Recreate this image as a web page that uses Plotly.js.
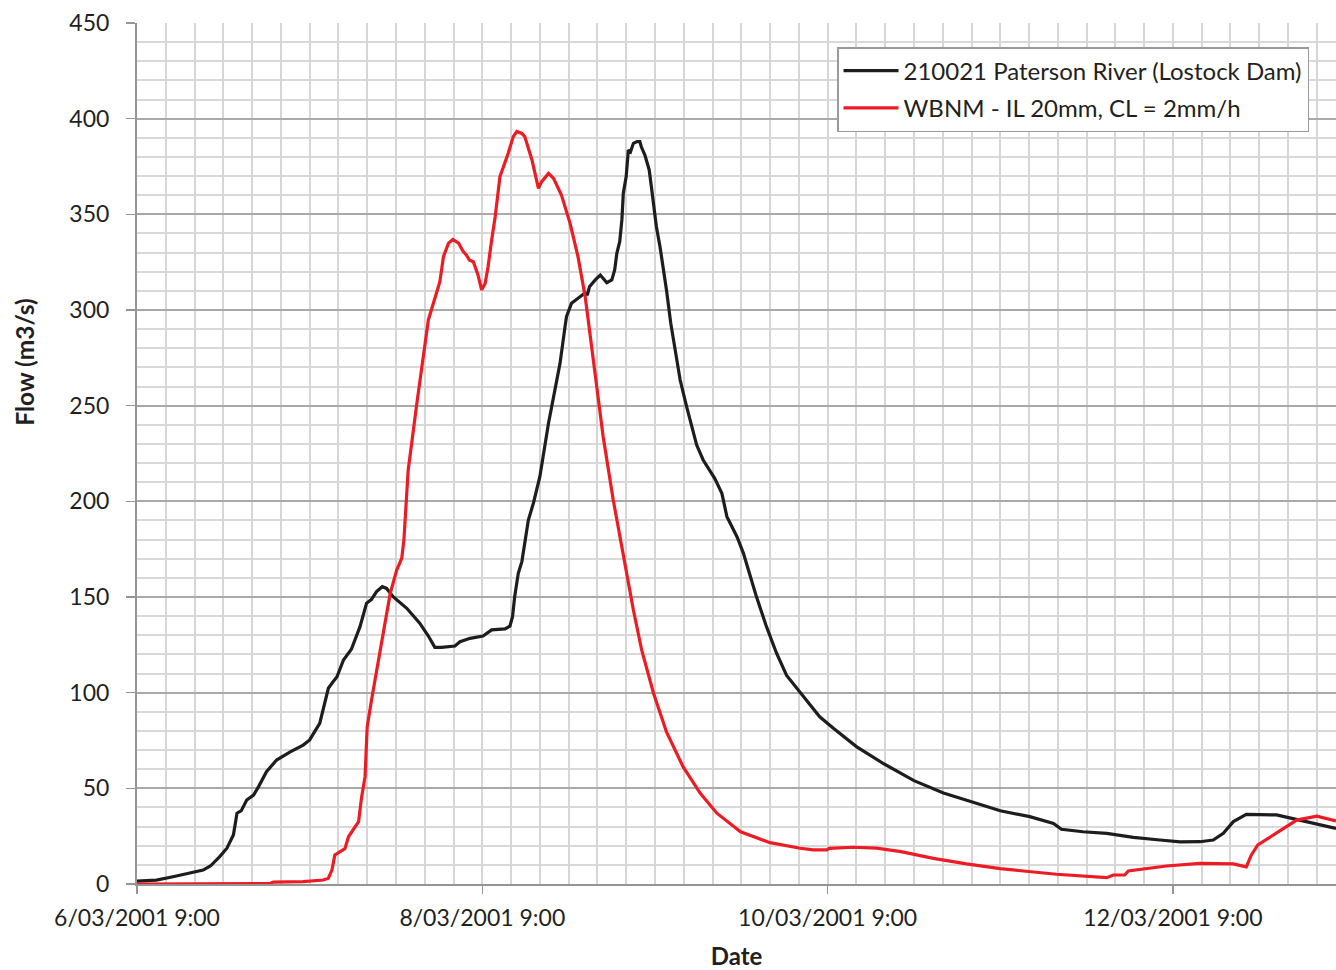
<!DOCTYPE html>
<html>
<head>
<meta charset="utf-8">
<script src="https://cdn.plot.ly/plotly-3.0.1.min.js"></script>
<style>html,body{margin:0;padding:0;background:#fff;}#chart{width:1336px;height:970px;}</style>
</head>
<body>
<div id="chart"></div>
<script>
// Observed flow: 210021 Paterson River (Lostock Dam)
const obsTime = [
 "2001-03-06 09:00","2001-03-06 11:42","2001-03-06 14:00","2001-03-06 18:12","2001-03-06 19:12",
 "2001-03-06 20:30","2001-03-06 21:30","2001-03-06 22:24","2001-03-06 22:54","2001-03-06 23:30",
 "2001-03-07 00:15","2001-03-07 01:12","2001-03-07 01:54","2001-03-07 03:00","2001-03-07 04:24",
 "2001-03-07 06:18","2001-03-07 08:06","2001-03-07 09:00","2001-03-07 10:24","2001-03-07 11:36",
 "2001-03-07 12:06","2001-03-07 12:48","2001-03-07 13:42","2001-03-07 14:48","2001-03-07 16:00",
 "2001-03-07 16:54","2001-03-07 17:36","2001-03-07 18:18","2001-03-07 19:06","2001-03-07 19:42",
 "2001-03-07 20:36","2001-03-07 22:30","2001-03-08 00:18","2001-03-08 01:30","2001-03-08 02:24",
 "2001-03-08 03:20","2001-03-08 05:12","2001-03-08 05:54","2001-03-08 07:18","2001-03-08 09:06",
 "2001-03-08 10:18","2001-03-08 12:10","2001-03-08 12:50","2001-03-08 13:12","2001-03-08 13:30",
 "2001-03-08 14:00","2001-03-08 14:30","2001-03-08 15:24","2001-03-08 16:06","2001-03-08 17:00",
 "2001-03-08 18:12","2001-03-08 19:06","2001-03-08 19:48","2001-03-08 20:30","2001-03-08 20:42",
 "2001-03-08 21:24","2001-03-08 22:48","2001-03-08 23:18","2001-03-08 23:36","2001-03-08 23:54",
 "2001-03-09 00:42","2001-03-09 01:24","2001-03-09 02:18","2001-03-09 03:00","2001-03-09 03:24",
 "2001-03-09 03:42","2001-03-09 04:06","2001-03-09 04:24","2001-03-09 04:36","2001-03-09 05:00",
 "2001-03-09 05:18","2001-03-09 05:36","2001-03-09 06:00","2001-03-09 06:30","2001-03-09 06:54",
 "2001-03-09 07:06","2001-03-09 07:36","2001-03-09 08:12","2001-03-09 08:30","2001-03-09 08:48",
 "2001-03-09 09:12","2001-03-09 09:42","2001-03-09 10:12","2001-03-09 10:36","2001-03-09 11:12",
 "2001-03-09 11:48","2001-03-09 12:30","2001-03-09 13:24","2001-03-09 14:06","2001-03-09 14:48",
 "2001-03-09 15:42","2001-03-09 16:24","2001-03-09 17:18","2001-03-09 18:18","2001-03-09 19:00",
 "2001-03-09 20:24","2001-03-09 21:18","2001-03-09 22:12","2001-03-09 23:06","2001-03-10 00:30",
 "2001-03-10 01:54","2001-03-10 03:18","2001-03-10 05:36","2001-03-10 07:54","2001-03-10 09:48",
 "2001-03-10 13:00","2001-03-10 16:42","2001-03-10 21:00","2001-03-11 01:06","2001-03-11 05:00",
 "2001-03-11 09:00","2001-03-11 13:06","2001-03-11 16:24","2001-03-11 17:30","2001-03-11 20:30",
 "2001-03-11 23:48","2001-03-12 03:30","2001-03-12 07:12","2001-03-12 10:00","2001-03-12 12:45",
 "2001-03-12 14:36","2001-03-12 16:00","2001-03-12 17:24","2001-03-12 19:12","2001-03-12 23:24",
 "2001-03-13 02:36","2001-03-13 07:40"
];
const obsFlow = [
 1.5,2.0,3.8,7.3,9.4,
 14.3,18.7,25.6,37.0,38.3,
 43.9,46.5,50.9,58.7,64.8,
 69.1,72.6,75.3,84.0,102.3,
 104.9,108.3,117.1,122.7,134.5,
 146.7,148.8,152.8,155.4,154.5,
 150.2,144.1,136.3,129.6,123.7,
 123.7,124.4,126.6,128.4,129.6,
 132.8,133.3,134.8,139.7,150.2,
 162.4,168.5,190.2,199.0,212.9,
 240.8,258.2,272.1,291.3,296.5,
 303.5,307.8,309.0,307.8,312.2,
 315.7,318.3,314.3,315.7,320.9,
 329.6,335.7,347.1,361.0,369.7,
 383.6,382.7,387.1,388.0,388.0,
 385.3,381.0,373.2,364.4,354.0,
 343.5,333.1,320.9,310.5,293.0,
 279.1,263.4,249.5,239.0,229.4,
 221.6,217.3,212.0,204.2,192.0,
 181.5,172.8,161.5,150.2,134.5,
 120.6,109.0,97.9,87.4,81.4,
 71.8,63.1,54.0,47.6,43.0,
 38.3,35.2,31.7,28.6,27.3,
 26.5,24.4,23.0,22.0,22.1,
 23.0,26.5,32.6,36.4,36.1,
 33.4,29.0
];

// Modelled flow: WBNM - IL 20mm, CL = 2mm/h
const modTime = [
 "2001-03-06 09:00","2001-03-07 03:30","2001-03-07 03:57","2001-03-07 08:06","2001-03-07 10:54",
 "2001-03-07 11:36","2001-03-07 12:06","2001-03-07 12:30","2001-03-07 13:54","2001-03-07 14:24",
 "2001-03-07 15:48","2001-03-07 16:12","2001-03-07 16:42","2001-03-07 17:00","2001-03-07 17:36",
 "2001-03-07 19:00","2001-03-07 20:12","2001-03-07 21:06","2001-03-07 21:48","2001-03-07 22:06",
 "2001-03-07 22:42","2001-03-07 23:54","2001-03-08 00:24","2001-03-08 01:00","2001-03-08 01:30",
 "2001-03-08 02:12","2001-03-08 02:42","2001-03-08 03:06","2001-03-08 03:36","2001-03-08 04:18",
 "2001-03-08 04:54","2001-03-08 05:42","2001-03-08 06:21","2001-03-08 06:48","2001-03-08 07:12",
 "2001-03-08 07:45","2001-03-08 08:24","2001-03-08 08:54","2001-03-08 09:24","2001-03-08 09:48",
 "2001-03-08 10:18","2001-03-08 10:48","2001-03-08 11:27","2001-03-08 12:36","2001-03-08 13:18",
 "2001-03-08 13:48","2001-03-08 14:30","2001-03-08 14:54","2001-03-08 15:54","2001-03-08 16:48",
 "2001-03-08 17:15","2001-03-08 18:12","2001-03-08 18:54","2001-03-08 20:00","2001-03-08 21:12",
 "2001-03-08 22:18","2001-03-08 23:18","2001-03-09 00:54","2001-03-09 01:48","2001-03-09 03:12",
 "2001-03-09 04:36","2001-03-09 06:00","2001-03-09 07:09","2001-03-09 08:48","2001-03-09 10:36",
 "2001-03-09 12:54","2001-03-09 15:18","2001-03-09 17:36","2001-03-09 20:54","2001-03-10 01:00",
 "2001-03-10 05:12","2001-03-10 07:00","2001-03-10 08:54","2001-03-10 09:12","2001-03-10 12:36",
 "2001-03-10 15:48","2001-03-10 19:12","2001-03-10 23:42","2001-03-11 04:18","2001-03-11 09:00",
 "2001-03-11 16:48","2001-03-11 23:48","2001-03-12 00:42","2001-03-12 02:18","2001-03-12 02:48",
 "2001-03-12 08:06","2001-03-12 12:45","2001-03-12 17:24","2001-03-12 19:12","2001-03-12 19:54",
 "2001-03-12 20:48","2001-03-12 23:24","2001-03-13 02:12","2001-03-13 05:00","2001-03-13 07:40"
];
const modFlow = [
 0.0,0.3,1.0,1.2,2.1,
 3.0,7.3,15.2,18.5,24.7,
 32.6,44.8,56.1,82.2,96.2,
 125.0,151.9,164.1,170.2,179.8,
 216.4,251.2,265.1,280.8,294.8,
 303.5,310.5,314.8,327.9,334.9,
 336.9,334.9,330.5,328.7,326.1,
 325.2,318.3,310.5,314.0,322.6,
 336.6,349.0,369.7,381.9,390.6,
 393.3,392.3,390.6,378.4,363.6,
 367.1,371.4,368.8,360.1,345.3,
 327.9,307.0,258.2,233.8,200.7,
 171.1,143.2,122.3,99.7,79.5,
 61.3,47.4,37.0,27.3,21.6,
 18.7,17.8,17.8,18.6,19.2,
 18.7,16.9,13.4,10.5,8.0,
 5.1,3.3,4.7,4.7,6.8,
 9.4,10.8,10.5,9.0,15.2,
 20.4,26.5,33.4,35.5,33.0
];

const seriesNames = ["210021 Paterson River (Lostock Dam)", "WBNM - IL 20mm, CL = 2mm/h"];
const xTitle = "Date";
const yTitle = "Flow (m3/s)";

const FONT = "Lato, 'Open Sans', sans-serif";
const X_RANGE = ["2001-03-06 09:00", "2001-03-13 07:40"];
const X_START = "2001-03-06 09:00";
const HOUR = 3600 * 1000;

const traces = [
 {x: obsTime, y: obsFlow, name: seriesNames[0], type: "scatter", mode: "lines",
  legendgroup: "a", xaxis: "x", yaxis: "y",
  line: {color: "#1e1c1c", width: 3.2}},
 {x: modTime, y: modFlow, name: seriesNames[1], type: "scatter", mode: "lines",
  legendgroup: "b", xaxis: "x2", yaxis: "y",
  line: {color: "#ed1c24", width: 3.2}}
];

const layout = {
 width: 1336, height: 970,
 margin: {l: 137, r: 0, t: 23, b: 86},
 paper_bgcolor: "#ffffff", plot_bgcolor: "#ffffff",
 font: {family: FONT, color: "#231f20", size: 23},
 showlegend: true,
 legend: {x: 0.9775, xanchor: "right", y: 0.9721, yanchor: "top",
  bgcolor: "#ffffff", bordercolor: "#9a9a9a", borderwidth: 1.5,
  tracegroupgap: 3, itemwidth: 55,
  font: {family: FONT, size: 24, color: "#231f20"}},
 // gridline axis: every 4 hours
 xaxis: {
  type: "date", range: X_RANGE,
  tick0: X_START, dtick: 4 * HOUR,
  ticks: "", showticklabels: false,
  showline: true, linecolor: "#959595", linewidth: 2,
  showgrid: true, gridcolor: "#d6d6d6", gridwidth: 2,
  zeroline: false
 },
 // label axis: every 2 days
 xaxis2: {
  type: "date", range: X_RANGE, overlaying: "x", anchor: "y", side: "bottom",
  tick0: X_START, dtick: 48 * HOUR,
  tickformat: "%-d/%m/%Y %-H:%M",
  ticks: "outside", ticklen: 9, tickcolor: "#959595", tickwidth: 1.5,
  ticklabelstandoff: 4,
  showline: false, showgrid: false, zeroline: false,
  tickfont: {family: FONT, size: 23, color: "#231f20"},
  title: {text: xTitle, font: {family: FONT, size: 24, color: "#231f20", weight: "bold"}, standoff: 24}
 },
 yaxis: {
  range: [0, 450], dtick: 50, tick0: 0,
  ticks: "outside", ticklen: 9, tickcolor: "#959595", tickwidth: 1.5,
  ticklabelstandoff: 12,
  showline: true, linecolor: "#959595", linewidth: 2,
  showgrid: true, gridcolor: "#a9a9a9", gridwidth: 2,
  minor: {dtick: 10, showgrid: true, gridcolor: "#d9d9d9", gridwidth: 2, ticks: ""},
  zeroline: false,
  tickfont: {family: FONT, size: 23, color: "#231f20"}
 },
 annotations: [
  {text: "<b>" + yTitle + "</b>", xref: "paper", yref: "paper", x: -0.094, y: 0.607,
   xanchor: "center", yanchor: "middle", textangle: -90, showarrow: false,
   font: {family: FONT, size: 24.5, color: "#231f20"}}
 ]
};

Plotly.newPlot("chart", traces, layout, {displayModeBar: false, staticPlot: true});
</script>
</body>
</html>
